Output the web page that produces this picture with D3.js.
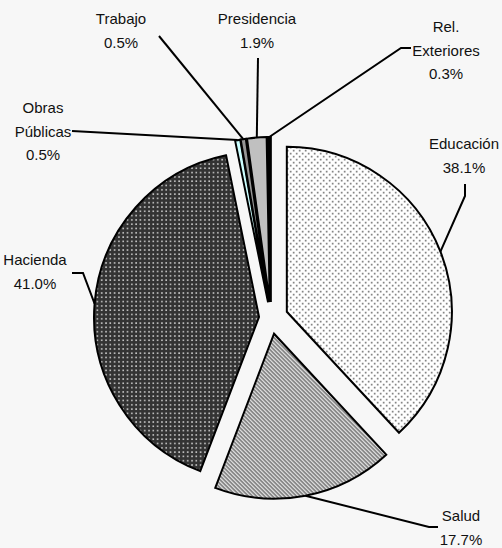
<!DOCTYPE html>
<html lang="es">
<head>
    <meta charset="UTF-8">
    <title>Distribución por sector</title>
    <script src="https://d3js.org/d3.v7.min.js"></script>
    <style>
        html, body {
            margin: 0;
            padding: 0;
            background-color: #f7f7f7;
        }
        svg {
            display: block;
            font-family: "Liberation Sans", Arial, sans-serif;
        }
    </style>
</head>
<body>

<svg id="pieChart" width="502" height="548"></svg>

<script>
    // Data (clockwise from 12 o'clock)
    const categories = ['Educación', 'Salud', 'Hacienda', 'Obras Públicas', 'Trabajo', 'Presidencia', 'Rel. Exteriores'];
    const shares = [38.1, 17.7, 41.0, 0.5, 0.5, 1.9, 0.3];
    const labelLines = [['Educación'], ['Salud'], ['Hacienda'], ['Obras', 'Públicas'], ['Trabajo'], ['Presidencia'], ['Rel.', 'Exteriores']];

    // Styling / layout per slice
    const fills = ['url(#patEdu)', 'url(#patSalud)', 'url(#patHac)', '#ccffff', '#969696', '#c0c0c0', '#000000'];
    const explode = [17, 16, 12, 16, 16, 16, 16];
    // label center x, first baseline y, leader elbow points (label side -> slice)
    const labelLayout = [
        { x: 464, y: 149, leader: [[465, 184], [465, 196]] },
        { x: 461, y: 521, leader: [[438, 527], [429, 527]] },
        { x: 35,  y: 265, leader: [[72, 273], [83, 273]] },
        { x: 43,  y: 113, leader: [[72, 131]] },
        { x: 121, y: 24,  leader: [[159, 36]] },
        { x: 257, y: 24,  leader: [[258, 58]] },
        { x: 446, y: 32,  leader: [[411, 48], [401, 48]] }
    ];

    const svg = d3.select('#pieChart');
    const cx = 271, cy = 318, radius = 165;
    const lineGap = 23.7;

    // Patterns
    const defs = svg.append('defs');

    const pEdu = defs.append('pattern').attr('id', 'patEdu')
        .attr('patternUnits', 'userSpaceOnUse').attr('width', 6).attr('height', 6);
    pEdu.append('rect').attr('width', 6).attr('height', 6).attr('fill', '#ffffff');
    pEdu.append('rect').attr('x', 0).attr('y', 0).attr('width', 1.6).attr('height', 1.6).attr('fill', '#707070');
    pEdu.append('rect').attr('x', 3).attr('y', 3).attr('width', 1.6).attr('height', 1.6).attr('fill', '#707070');

    const pSalud = defs.append('pattern').attr('id', 'patSalud')
        .attr('patternUnits', 'userSpaceOnUse').attr('width', 4).attr('height', 4);
    pSalud.append('rect').attr('width', 4).attr('height', 4).attr('fill', '#ffffff');
    pSalud.append('path')
        .attr('d', 'M-1,-1 L5,5 M-1,3 L1,5 M3,-1 L5,1')
        .attr('stroke', '#7a7a7a').attr('stroke-width', 1.8);

    const pHac = defs.append('pattern').attr('id', 'patHac')
        .attr('patternUnits', 'userSpaceOnUse').attr('width', 4.3).attr('height', 4.3);
    pHac.append('rect').attr('width', 4.3).attr('height', 4.3).attr('fill', '#333333');
    pHac.append('rect').attr('x', 1).attr('y', 1).attr('width', 1.6).attr('height', 1.6).attr('fill', '#c8c8c8');

    const data = categories.map((c, i) => ({ name: c, value: shares[i], idx: i }));

    const pie = d3.pie().sort(null).value(d => d.value).startAngle(0).endAngle(2 * Math.PI);
    const arcs = pie(data);

    const arc = d3.arc().innerRadius(0).outerRadius(radius);

    const g = svg.append('g').attr('transform', `translate(${cx},${cy})`);

    const offset = d => {
        const mid = (d.startAngle + d.endAngle) / 2;
        const k = explode[d.data.idx];
        return [Math.sin(mid) * k, -Math.cos(mid) * k];
    };

    g.selectAll('.slice')
        .data(arcs)
        .enter().append('path')
        .attr('class', 'slice')
        .attr('transform', d => `translate(${offset(d)})`)
        .attr('d', arc)
        .attr('fill', d => fills[d.data.idx])
        .attr('stroke', '#000')
        .attr('stroke-width', 2)
        .attr('stroke-linejoin', 'miter');

    // Leader lines
    const leader = d3.line();
    svg.selectAll('.leader')
        .data(arcs)
        .enter().append('path')
        .attr('class', 'leader')
        .attr('fill', 'none')
        .attr('stroke', '#000')
        .attr('stroke-width', 2)
        .attr('d', d => {
            const mid = (d.startAngle + d.endAngle) / 2;
            const o = offset(d);
            const end = [cx + o[0] + Math.sin(mid) * radius, cy + o[1] - Math.cos(mid) * radius];
            return leader(labelLayout[d.data.idx].leader.concat([end]));
        });

    // Labels
    const fmt = d3.format('.1f');
    const labels = svg.selectAll('.label')
        .data(arcs)
        .enter().append('text')
        .attr('class', 'label')
        .attr('text-anchor', 'middle')
        .attr('font-size', 15)
        .attr('fill', '#111');

    labels.each(function(d) {
        const lay = labelLayout[d.data.idx];
        const lines = labelLines[d.data.idx].concat([fmt(d.data.value) + '%']);
        d3.select(this).selectAll('tspan')
            .data(lines)
            .enter().append('tspan')
            .attr('x', lay.x)
            .attr('y', (t, j) => lay.y + j * lineGap)
            .text(t => t);
    });
</script>

</body>
</html>
